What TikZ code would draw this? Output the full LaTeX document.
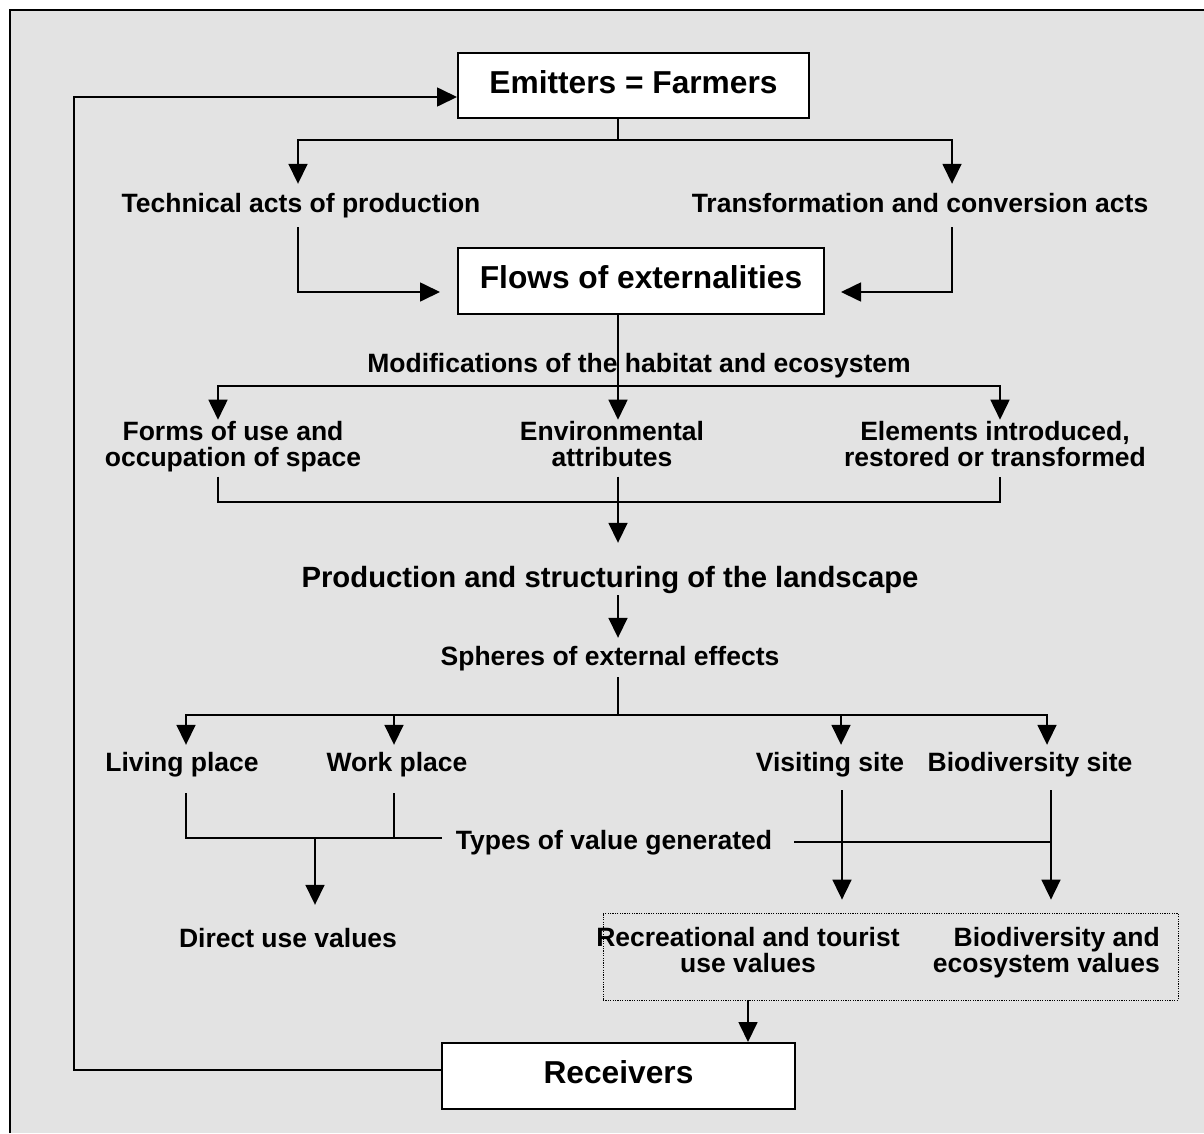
\documentclass[tikz,border=0pt]{standalone}
\usepackage{fontspec}
\setmainfont{Liberation Sans}
\usetikzlibrary{arrows.meta}
\definecolor{bgc}{RGB}{227,227,227}
\newcommand\boxfnt{\fontsize{31.7}{36}\selectfont\bfseries}
\newcommand\lblfnt{\fontsize{26.5}{26}\selectfont\bfseries\lineskiplimit=-100pt}
\newcommand\prodfnt{\fontsize{29.3}{32}\selectfont\bfseries}
\tikzset{
  ln/.style={line width=1.7pt},
  arr/.style={line width=1.7pt, -{Triangle[length=20pt,width=19pt]}},
  mainbox/.style={draw, line width=2pt, fill=white, font=\boxfnt, inner sep=0pt,
    text height=22pt, text depth=7pt},
  lbl/.style={font=\lblfnt, inner xsep=0pt, inner ysep=0pt, anchor=base,
    text height=28pt, text depth=15pt},
  lbltwo/.style={font=\lblfnt, align=center, inner xsep=0pt, inner ysep=1.8pt},
  valframe/.style={draw, line width=0.8pt, dash pattern=on 1.2pt off 1.2pt,
    minimum width=575pt, minimum height=87pt, inner sep=0pt}
}
\begin{document}
\begin{tikzpicture}[x=1pt,y=-1pt]
\useasboundingbox (0,0) rectangle (1204,1133);
\fill[bgc] (10,10) rectangle (1204,1133);
\draw[line width=1.5pt] (10,1133) -- (10,10) -- (1204,10);

% boxes
\node[mainbox, minimum width=351pt, minimum height=65pt] (emit) at (633.5,85.5) {Emitters = Farmers};
\node[mainbox, minimum width=366pt, minimum height=66pt] (flows) at (641,281) {Flows of externalities};
\node[mainbox, minimum width=353pt, minimum height=66pt] (recv) at (618.5,1076) {Receivers};
\node[valframe] (valbox) at (890.5,956.5) {};

% labels
\node[lbl] (tech) at (301,212) {Technical acts of production};
\node[lbl] (trans) at (920,212) {Transformation and conversion acts};
\node[lbl] (modif) at (639,372) {Modifications of the habitat and ecosystem};
\node[lbltwo] (forms) at (233,448.2) {\strut Forms of use and\\\strut occupation of space};
\node[lbltwo] (env) at (612,448.2) {\strut Environmental\\\strut attributes};
\node[lbltwo] (elem) at (995,448.2) {\strut Elements introduced,\\\strut restored or transformed};
\node[lbl, font=\prodfnt, text height=44pt, text depth=8pt] (prod) at (610,587) {Production and structuring of the landscape};
\node[lbl, text height=27pt, text depth=12pt] (spheres) at (610,665) {Spheres of external effects};
\node[lbl, text height=26pt, text depth=22pt] (living) at (182,771) {Living place};
\node[lbl, text height=26pt, text depth=22pt] (work) at (397,771) {Work place};
\node[lbl, text height=26pt, text depth=19pt] (visit) at (830,771) {Visiting site};
\node[lbl, text height=26pt, text depth=19pt] (biosite) at (1030,771) {Biodiversity site};
\node[lbl] (types) at (614,849) {Types of value generated};
\node[lbl, text height=42pt, text depth=6pt] (direct) at (288,947) {Direct use values};
\node[lbltwo] (recre) at (748,954.2) {\strut Recreational and tourist\\\strut use values};
\node[lbltwo, align=right, anchor=east] (biodiv) at (1160,954.2) {\strut Biodiversity and\\\strut ecosystem values};

% junction coordinates
\coordinate (b1M) at (618,140);
\coordinate (b1L) at (298,140);
\coordinate (b1R) at (952,140);
\coordinate (c2) at (0,292);
\coordinate (b3M) at (618,386);
\coordinate (b3L) at (218,386);
\coordinate (b3R) at (1000,386);
\coordinate (b4L) at (218,502);
\coordinate (b4R) at (1000,502);
\coordinate (b6M) at (618,715);
\coordinate (b6L) at (186,715);
\coordinate (b6R) at (1047,715);
\coordinate (x6a) at (394,715);
\coordinate (x6b) at (841,715);
\coordinate (b7L) at (186,838);
\coordinate (b7E) at (442,838);
\coordinate (b7D) at (315,838);
\coordinate (b8W) at (794,842);
\coordinate (x8a) at (842,842);
\coordinate (b8E) at (1051,842);
\coordinate (fbB) at (74,1070);
\coordinate (fbT) at (74,97);

% emitters -> acts
\draw[ln] (emit.south -| b1M) -- (b1M);
\draw[arr] (b1M) -| (b1L |- tech.north);
\draw[arr] (b1M) -| (b1R |- trans.north);
% acts -> flows
\draw[arr, shorten >=17pt] (b1L |- tech.south) |- (flows.west |- c2);
\draw[arr, shorten >=16pt] (b1R |- trans.south) |- (flows.east |- c2);
% flows -> modifications
\draw[arr] (flows.south -| b3M) -- (b3M |- env.north);
\draw[arr] (b3M) -| (b3L |- forms.north);
\draw[arr] (b3M) -| (b3R |- elem.north);
% merge -> production
\draw[ln] (b3L |- forms.south) -- (b4L) -- (b4R) -- (b3R |- elem.south);
\draw[arr] (b3M |- env.south) -- (b3M |- prod.north);
\draw[arr] (b3M |- prod.south) -- (b3M |- spheres.north);
% spheres
\draw[ln] (b3M |- spheres.south) -- (b6M);
\draw[arr] (b6M) -| (b6L |- living.north);
\draw[arr] (b6M) -| (b6R |- biosite.north);
\draw[arr] (x6a) -- (x6a |- work.north);
\draw[arr] (x6b) -- (x6b |- visit.north);
% types of value, left
\draw[ln] (b6L |- living.south) -- (b7L) -- (b7E);
\draw[ln] (x6a |- work.south) -- (x6a |- b7L);
\draw[arr] (b7D) -- (b7D |- direct.north);
% types of value, right
\draw[ln] (b8W) -- (b8E);
\draw[arr, shorten >=13pt] (x8a |- visit.south) -- (x8a |- valbox.north);
\draw[arr, shorten >=13pt] (b8E |- biosite.south) -- (b8E |- valbox.north);
% values -> receivers
\draw[arr] (recre |- valbox.south) -- (recre |- recv.north);
% feedback
\draw[arr] (recv.west |- fbB) -- (fbB) -- (fbT) -- (emit.west |- fbT);
\end{tikzpicture}
\end{document}
